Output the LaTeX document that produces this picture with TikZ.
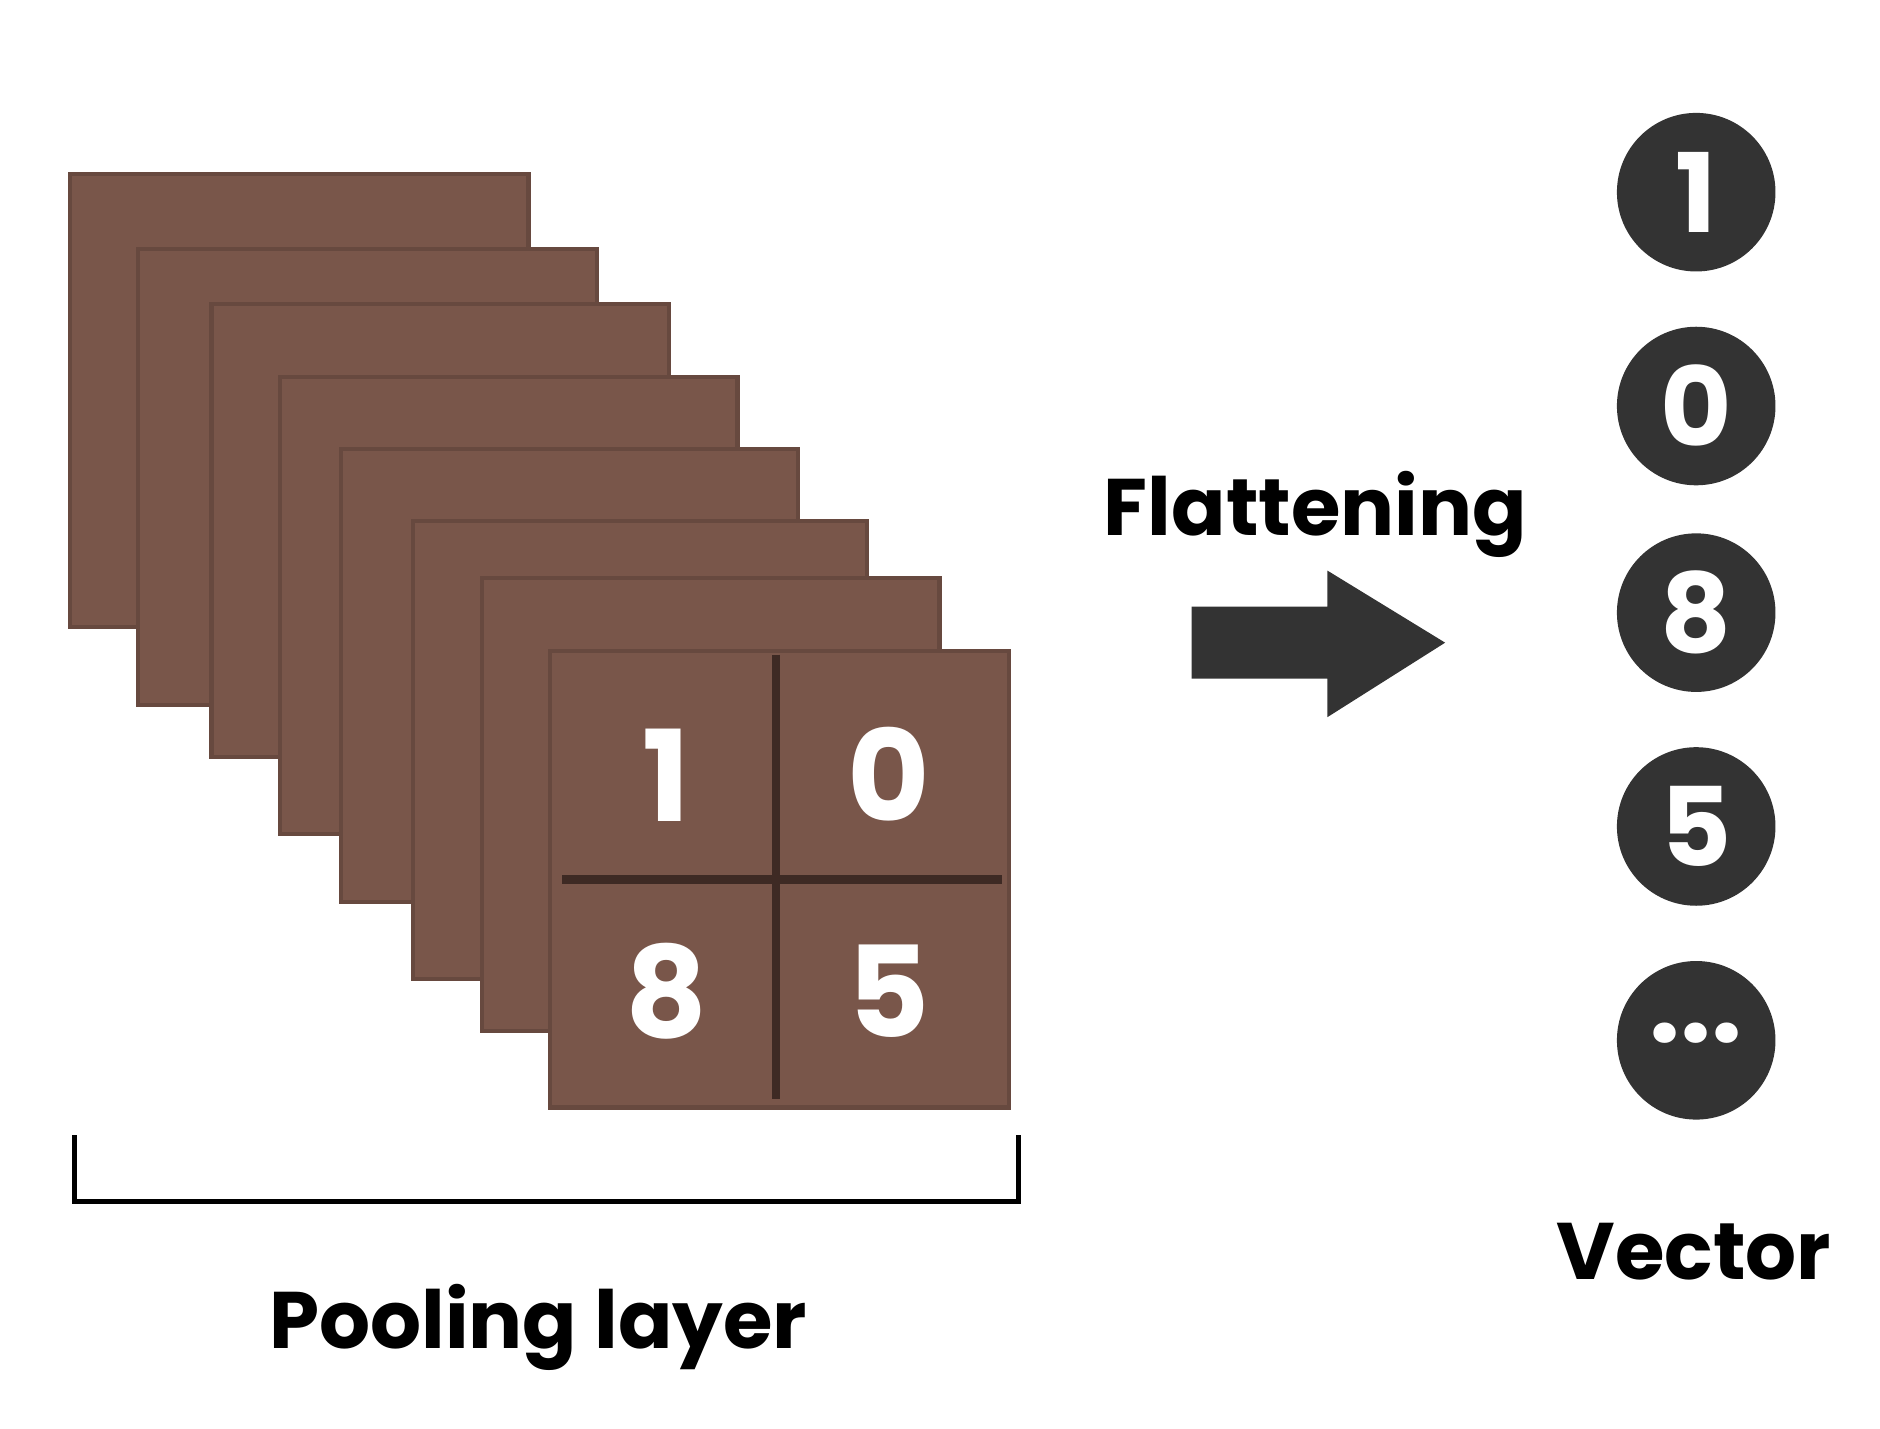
\documentclass[tikz,border=0pt]{standalone}
\usepackage{fontspec}
\setmainfont{Poppins}
\begin{document}
\begin{tikzpicture}[x=0.1mm,y=-0.1mm,
  sheet/.style={fill=brn,draw=brn!85!black,line width=1pt},
  dig/.style={text=white,font=\fontsize{30}{32}\selectfont\bfseries},
  vdig/.style={circle,fill=dk,minimum size=132*0.1mm,inner sep=0pt,text=white,font=\fontsize{26}{28}\selectfont\bfseries},
  lbl/.style={font=\fontsize{19}{21}\selectfont\bfseries}]
\definecolor{brn}{HTML}{79564A}
\definecolor{dk}{HTML}{333333}
\definecolor{divc}{HTML}{3E2A24}
\useasboundingbox (0,0) rectangle (1565,1189);
\foreach \a/\b/\c/\d [count=\i] in {58/145/440/522,115/207/497/587,176/253/557/630,233/314/614/694,284/374/664/751,344/434/722/815,401/481/782/858,458/542/840/922}
  \draw[sheet] (\a,\b) rectangle (\c,\d);
\draw[line width=2pt,divc] (646,545) -- (646,915);
\draw[line width=2pt,divc] (468,732) -- (834,732);
\node[dig] (n1) at (555,645) {1};
\node[dig] (n0) at (740,645) {0};
\node[dig] (n8) at (555,825) {8};
\node[dig] (n5) at (740,825) {5};
\draw[line width=1.3pt] (62,945) -- (62,1000) -- (848,1000) -- (848,945);
\node[lbl] (pool) at (448,1105) {Pooling layer};
\node[lbl] (flat) at (1095,428) {Flattening};
\fill[dk] (992,505) -- (1105,505) -- (1105,475) -- (1203,535) -- (1105,597) -- (1105,565) -- (992,565) -- cycle;
\node[vdig] (v1) at (1412,160) {1};
\node[vdig] (v0) at (1412,338) {0};
\node[vdig] (v8) at (1412,510) {8};
\node[vdig] (v5) at (1412,688) {5};
\node[vdig] (vd) at (1412,866) {\raisebox{0.25ex}{...}};
\node[lbl] (vec) at (1410,1042) {Vector};
\end{tikzpicture}
\end{document}
